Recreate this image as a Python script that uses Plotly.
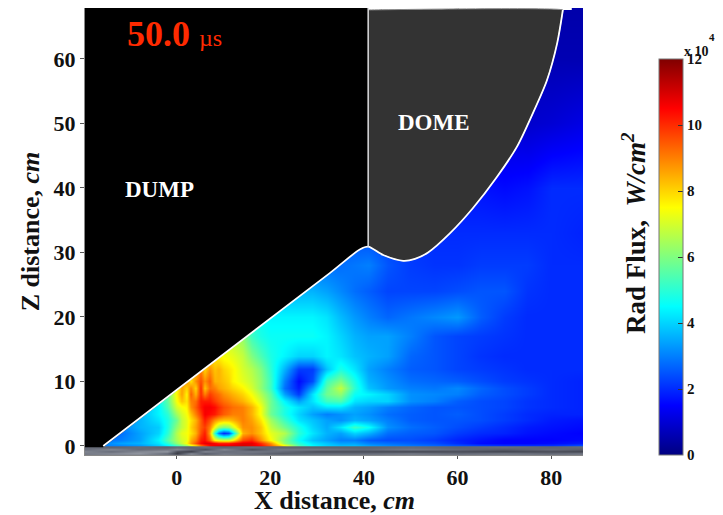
import plotly.graph_objects as go

FONT = "Liberation Serif"
x_left = [-16,-12,-8,-4,-2,0,1,2,3,4,5,6,7,8,9,10,11,12]
x_right = [14,16,18,20,23,26,29,32,35,38,41,45,50,55,60,65,70,75,80,87]
z_cm = [0,0.5,1,2,3,4,5,6,7,8,9,10,12,14,17,20,24,28,33,40,50,60,68]
flux_left = [
 [3.0,3.0,3.2,3.8,4.2,5.0,5.5,6.0,6.8,7.5,8.8,9.5,10.4,10.8,11.0,11.0,11.0,11.0],
 [3.0,3.4,3.6,4.2,5.0,6.2,6.8,7.5,8.6,9.5,10.4,10.8,10.8,10.5,10.2,10.2,10.2,10.4],
 [2.8,3.0,3.4,4.4,5.5,6.5,7.0,7.2,8.4,9.0,10.2,10.4,9.4,7.6,7.2,7.0,7.0,7.6],
 [2.6,2.8,3.4,4.0,5.0,6.6,7.2,7.4,7.8,8.4,9.6,10.2,8.6,5.0,3.0,2.0,2.4,4.0],
 [2.6,3.0,3.6,3.9,4.8,6.2,6.8,7.2,8.0,8.6,9.4,9.8,9.0,7.4,6.4,6.0,6.2,7.0],
 [2.6,3.0,3.6,4.2,4.8,5.8,6.8,7.2,7.8,8.4,9.4,10.2,9.6,8.8,8.4,8.2,8.2,8.4],
 [2.6,3.0,3.6,4.4,5.0,6.4,7.0,7.4,8.2,9.0,9.8,10.6,10.4,10.2,9.8,9.4,9.2,9.0],
 [2.8,3.2,3.6,4.4,5.4,7.0,7.4,7.6,8.8,9.4,10.2,10.6,10.6,10.4,10.0,9.6,9.4,9.2],
 [2.8,3.2,3.8,4.6,5.6,7.4,8.2,7.8,9.0,9.2,10.2,10.2,10.2,9.8,9.5,9.2,9.0,8.8],
 [2.8,3.2,3.8,4.6,5.6,7.6,8.6,7.6,9.4,8.4,10.0,9.0,9.8,9.4,9.2,8.8,8.6,8.4],
 [2.8,3.2,3.8,4.6,5.6,7.4,8.6,8.0,9.0,8.0,10.0,8.2,9.2,9.0,8.6,8.4,8.2,8.0],
 [2.8,3.2,3.8,4.6,5.6,7.2,8.4,8.8,7.8,8.8,9.6,8.8,9.4,8.4,8.4,8.2,8.0,7.6],
 [2.8,3.2,3.8,4.6,5.6,7.0,7.4,7.6,8.8,8.0,9.0,8.0,8.8,8.2,8.4,8.0,7.8,7.6],
 [2.8,3.2,3.8,4.6,5.6,6.8,7.0,7.2,7.6,7.6,7.6,7.6,7.8,7.8,7.6,7.4,7.3,7.2],
 [2.8,3.2,3.8,4.6,5.6,6.6,6.7,6.8,6.9,7.0,7.1,7.2,7.2,7.2,7.0,6.8,6.7,6.6],
 [2.8,3.2,3.8,4.6,5.4,6.2,6.3,6.4,6.5,6.6,6.6,6.6,6.6,6.6,6.4,6.2,6.1,6.0],
 [2.8,3.2,3.8,4.6,5.2,5.8,5.9,6.0,6.0,6.0,6.0,6.0,5.9,5.8,5.6,5.4,5.2,5.0],
 [2.8,3.2,3.8,4.6,5.0,5.4,5.4,5.4,5.4,5.4,5.3,5.2,5.1,5.0,4.8,4.6,4.5,4.4],
 [2.8,3.2,3.8,4.4,4.8,5.0,5.0,5.0,5.0,5.0,4.9,4.8,4.7,4.6,4.5,4.4,4.3,4.2],
 [2.6,3.0,3.4,4.0,4.4,4.6,4.6,4.6,4.6,4.6,4.5,4.4,4.3,4.2,4.1,4.0,3.9,3.8],
 [2.4,2.8,3.0,3.4,3.6,3.8,3.8,3.8,3.8,3.8,3.7,3.6,3.5,3.4,3.3,3.2,3.1,3.0],
 [2.0,2.4,2.6,3.0,3.2,3.4,3.4,3.4,3.4,3.4,3.3,3.2,3.1,3.0,2.9,2.8,2.7,2.6],
 [1.8,2.0,2.2,2.6,2.8,3.0,3.0,3.0,3.0,3.0,2.9,2.8,2.7,2.6,2.5,2.4,2.3,2.2],
]
flux_right = [
 [11.0,10.8,10.5,9.5,7.8,5.5,4.5,4.0,3.8,3.8,3.5,3.2,3.0,2.8,2.6,2.4,2.2,2.2,2.2,2.6],
 [10.8,10.8,10.0,8.8,6.2,5.0,4.2,3.8,3.4,3.4,3.0,2.8,2.6,2.4,2.0,1.6,1.5,1.5,1.6,1.8],
 [9.6,10.0,8.8,7.5,6.0,4.6,3.8,3.4,3.0,3.0,2.6,2.4,2.4,2.2,1.9,1.7,1.5,1.5,1.5,1.6],
 [8.4,8.8,8.2,7.2,6.6,5.0,4.2,3.6,3.4,4.0,3.6,2.8,2.6,2.5,2.2,2.0,1.9,1.7,1.6,1.5],
 [8.8,8.8,8.2,6.8,5.8,4.8,4.0,3.5,4.2,5.2,4.6,3.2,2.8,2.6,2.4,2.2,2.0,1.8,1.7,1.6],
 [9.0,8.6,7.8,6.4,5.2,4.2,3.8,3.4,3.2,3.6,3.4,3.0,2.6,2.5,2.5,2.4,2.2,2.0,1.8,1.7],
 [9.0,8.4,7.4,5.8,4.8,4.0,3.4,3.0,3.2,3.4,3.2,2.8,2.6,2.5,2.6,2.4,2.2,2.0,1.9,1.9],
 [9.0,8.4,7.4,5.8,4.8,4.2,3.8,4.2,4.2,3.6,3.4,3.0,2.7,2.5,2.5,2.4,2.3,2.1,2.0,1.9],
 [8.4,7.8,7.0,5.8,4.4,3.4,4.2,5.2,5.4,4.2,4.0,4.0,3.2,3.0,2.6,2.4,2.3,2.1,2.0,1.9],
 [8.0,7.4,6.6,5.6,3.4,2.2,4.2,5.8,6.2,4.6,4.4,4.0,3.2,3.1,3.0,2.6,2.4,2.2,2.0,1.9],
 [7.6,7.0,6.2,5.2,2.8,1.8,3.4,5.6,6.8,5.0,3.8,3.3,3.0,2.9,3.1,2.7,2.4,2.2,2.0,1.9],
 [7.2,6.8,6.2,5.2,3.0,1.6,2.4,5.2,6.0,4.8,3.6,3.2,2.8,2.7,2.6,2.4,2.2,2.1,2.0,1.9],
 [7.0,6.6,6.0,5.0,3.6,2.2,2.2,3.8,4.8,4.2,3.4,3.0,2.6,2.5,2.3,2.2,2.1,2.0,2.0,2.0],
 [6.8,6.0,5.4,4.8,4.4,4.0,4.0,4.4,4.2,3.8,3.6,3.4,2.7,2.5,2.3,2.1,2.0,2.0,2.0,2.0],
 [6.2,5.2,4.8,4.6,4.6,4.6,4.6,4.4,4.0,3.6,3.4,3.4,3.0,2.5,2.3,2.2,2.1,2.0,2.0,2.0],
 [5.6,5.0,4.6,4.4,4.4,4.4,4.4,4.2,3.7,3.3,3.0,2.7,2.9,3.1,3.3,2.6,2.2,2.0,2.0,2.0],
 [4.8,4.4,4.0,3.9,3.6,3.6,3.6,3.4,3.1,2.8,2.6,2.3,2.3,2.3,2.4,2.5,2.5,2.1,2.0,2.0],
 [4.2,4.0,3.6,3.4,3.2,3.0,2.8,2.8,2.8,2.9,3.0,2.5,2.2,2.1,2.1,2.2,2.2,2.2,2.0,2.0],
 [4.0,3.6,3.4,3.2,3.0,2.9,2.7,2.6,2.5,2.4,2.3,2.2,2.1,2.0,2.0,2.0,2.0,2.0,2.0,1.9],
 [3.6,3.4,3.2,3.0,2.8,2.6,2.5,2.4,2.2,2.1,2.0,1.9,1.8,1.8,1.7,1.7,1.6,1.7,2.0,2.0],
 [2.8,2.6,2.4,2.2,2.0,1.8,1.6,1.4,1.3,1.2,1.2,1.2,1.1,1.1,1.1,1.0,1.0,0.9,1.0,1.2],
 [2.4,2.2,2.0,1.8,1.6,1.4,1.2,1.0,0.9,0.9,0.8,0.8,0.8,0.8,0.7,0.7,0.7,0.7,0.6,0.6],
 [2.0,1.8,1.6,1.4,1.2,1.0,0.8,0.7,0.6,0.6,0.6,0.6,0.6,0.5,0.5,0.5,0.5,0.5,0.5,0.5],
]
x_cm = x_left + x_right
flux_rows = [a + b for a, b in zip(flux_left, flux_right)]

jet = [[0,"#000080"],[0.125,"#0000ff"],[0.375,"#00ffff"],[0.625,"#ffff00"],[0.875,"#ff0000"],[1,"#800000"]]

ground_x = [-20,-14,-8,-2,0,3,6,10,16,22,30,40,50,60,70,80,88]
ground_z = [-1.4,-1.1,-0.8,-0.5,-0.2]
ground_rows = [
 [0.6,0.65,0.6,0.65,0.6,0.65,0.6,0.65,0.6,0.65,0.6,0.65,0.6,0.65,0.6,0.65,0.6],
 [0.6,0.7,0.8,0.5,0.2,0.7,0.4,0.6,0.5,0.4,0.5,0.5,0.6,0.5,0.6,0.5,0.6],
 [0.7,0.5,0.7,0.8,0.3,0.2,0.7,0.5,0.6,0.5,0.3,0.3,0.25,0.3,0.25,0.3,0.25],
 [0.5,0.7,0.5,0.6,0.7,0.5,0.3,0.7,0.3,0.6,0.6,0.5,0.6,0.5,0.4,0.5,0.4],
 [0.5,0.45,0.5,0.45,0.5,0.45,0.5,0.45,0.5,0.45,0.45,0.45,0.5,0.45,0.5,0.45,0.5],
]

dump_x = [-19.6,-15.7,32.7,39.2,40.9,40.9,-19.6]
dump_z = [-0.2,-0.2,26.8,30.5,30.9,68,68]
dome_x = [40.9,41.0,44.1,48.4,50.9,53.7,58.4,63.3,68.4,72.7,76.1,79.1,81.3,82.5,82.5,41.0,40.9]
dome_z = [30.9,30.9,29.6,28.7,29.0,30.0,33.0,36.9,41.7,46.4,51.6,56.7,62.5,67.5,67.6,67.6,67.6]
edge_x = [-15.7,32.7,39.2,40.9,44.1,48.4,50.9,53.7,58.4,63.3,68.4,72.7,76.1,79.1,81.3,82.5]
edge_z = [0.0,26.8,30.5,30.9,29.6,28.7,29.0,30.0,33.0,36.9,41.7,46.4,51.6,56.7,62.5,67.6]
wall_x = [40.9,40.9]
wall_z = [30.9,68]
gap_x = [40.9,84.4,84.4,82.5,40.9]
gap_z = [67.6,67.6,68,68,68]

fig = go.Figure()
fig.add_trace(go.Heatmap(x=x_cm, y=z_cm, z=flux_rows, colorscale=jet, zmin=0, zmax=12, zsmooth="best",
    hoverinfo="skip",
    colorbar=dict(x=(659-85)/498, xanchor="left", xpad=0, y=0, yanchor="bottom", ypad=0,
                  len=396, lenmode="pixels", thickness=24, thicknessmode="pixels",
                  tickvals=[0,2,4,6,8,10,12], ticks="inside", ticklen=5, tickcolor="#333333",
                  outlinecolor="#777777", outlinewidth=1,
                  tickfont=dict(family=FONT, size=15, color="#111111", weight=700))))
fig.add_trace(go.Heatmap(x=ground_x, y=ground_z, z=ground_rows, zmin=0, zmax=1, zsmooth="best", showscale=False,
    colorscale=[[0,"#202028"],[0.5,"#666b78"],[1,"#b0b4bc"]], hoverinfo="skip"))
fig.add_trace(go.Scatter(x=dump_x, y=dump_z, fill="toself", fillcolor="#000000", mode="none", hoverinfo="skip", showlegend=False))
fig.add_trace(go.Scatter(x=gap_x, y=gap_z, fill="toself", fillcolor="#ffffff", mode="none", hoverinfo="skip", showlegend=False))
fig.add_trace(go.Scatter(x=dome_x, y=dome_z, fill="toself", fillcolor="#333333", mode="lines",
    line=dict(color="#888888", width=1, shape="spline", smoothing=0.8), hoverinfo="skip", showlegend=False))
fig.add_trace(go.Scatter(x=edge_x, y=edge_z, mode="lines", line=dict(color="#ffffff", width=1.8, shape="spline", smoothing=0.8),
    hoverinfo="skip", showlegend=False))
fig.add_trace(go.Scatter(x=wall_x, y=wall_z, mode="lines", line=dict(color="#dddddd", width=1.5), hoverinfo="skip", showlegend=False))

axis_font = dict(family=FONT, size=22, color="#111111", weight=700)
title_font = dict(family=FONT, size=26, color="#111111")
fig.update_layout(
    width=715, height=507, autosize=False, paper_bgcolor="white", plot_bgcolor="white", showlegend=False,
    margin=dict(l=77, r=140, t=0, b=60, autoexpand=False),
    xaxis=dict(range=[-19.6,86.8], tickvals=[0,20,40,60,80], ticks="outside", ticklen=3, tickcolor="#555555",
               showgrid=False, zeroline=False, showline=True, linecolor="#888888", linewidth=1,
               tickfont=axis_font),
    yaxis=dict(range=[-1.4,67.9], tickvals=[0,10,20,30,40,50,60], ticks="outside", ticklen=4, tickcolor="#555555",
               showgrid=False, zeroline=False, showline=True, linecolor="#888888", linewidth=1,
               tickfont=axis_font,
               title=dict(text="<b>Z distance, <i>cm</i></b>", font=title_font, standoff=6)),
    annotations=[
        dict(x=0.5, y=(455-500)/447, xref="paper", yref="paper", xanchor="center", yanchor="middle",
             showarrow=False, text="<b>X distance, <i>cm</i></b>", font=title_font),
        dict(x=-0.4, y=63.9, xref="x", yref="y", showarrow=False,
             text="<b>50.0</b> <span style='font-size:24px'>µs</span>",
             font=dict(family=FONT, size=36, color="#ff2a00")),
        dict(x=-3.6, y=39.7, xref="x", yref="y", showarrow=False, text="<b>DUMP</b>",
             font=dict(family=FONT, size=23, color="white")),
        dict(x=55, y=50.2, xref="x", yref="y", showarrow=False, text="<b>DOME</b>",
             font=dict(family=FONT, size=23, color="white")),
        dict(x=(634-85)/498, y=(455-233)/447, xref="paper", yref="paper", xanchor="center", yanchor="middle",
             showarrow=False, textangle=-90,
             text="<b>Rad Flux,  <i>W/cm<sup>2</sup></i></b>", font=dict(family=FONT, size=27, color="#111111")),
        dict(x=(696-85)/498, y=(455-51)/447, xref="paper", yref="paper", xanchor="center", yanchor="middle",
             showarrow=False, text="<b>x 10</b>", font=dict(family=FONT, size=14, color="#111111")),
        dict(x=(712-85)/498, y=(455-37)/447, xref="paper", yref="paper", xanchor="center", yanchor="middle",
             showarrow=False, text="<b>4</b>", font=dict(family=FONT, size=11, color="#111111")),
    ],
)
fig.write_html("out.html")
